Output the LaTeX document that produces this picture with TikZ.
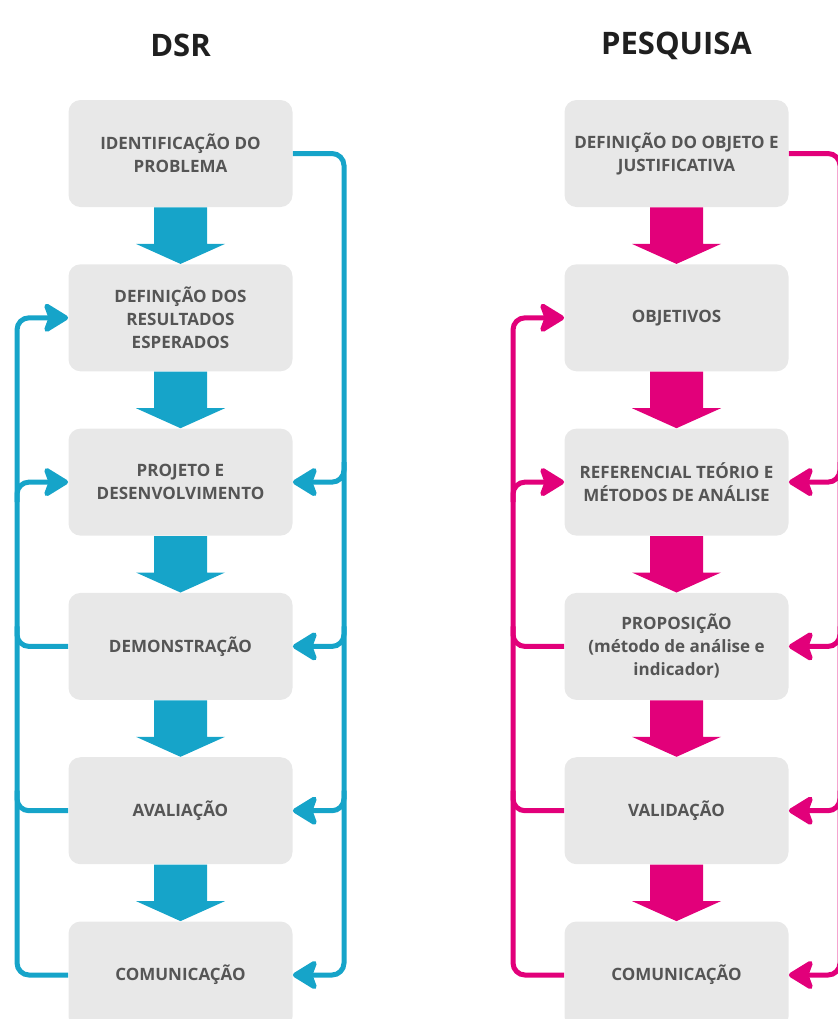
\documentclass[tikz,border=0pt]{standalone}
\usepackage{fontspec}
\setmainfont{Open Sans}
\usetikzlibrary{positioning,arrows.meta,calc}
\definecolor{dsrazul}{RGB}{22,164,201}
\definecolor{pesqrosa}{RGB}{226,0,122}
\definecolor{caixa}{RGB}{232,232,232}
\definecolor{texto}{RGB}{85,85,85}
\tikzset{
  etapa/.style={rounded corners=6pt,fill=caixa,minimum width=112pt,minimum height=53.5pt,
    align=center,inner sep=2pt,text=texto,font=\bfseries\fontsize{8.5}{11.5}\selectfont},
  titulo/.style={text=black!88,font=\bfseries\fontsize{15.5}{18}\selectfont},
  % wide block arrow between two steps
  bloco/.style={to path={($(\tikztostart)+(-26.5,0)$) -- ($(\tikztotarget)+(-26.5,-20)$)
    -- ($(\tikztotarget)+(-44.5,-20)$) -- (\tikztotarget) -- ($(\tikztotarget)+(44.5,-20)$)
    -- ($(\tikztotarget)+(26.5,-20)$) -- ($(\tikztostart)+(26.5,0)$) -- cycle}},
  laco/.style={draw=#1,line width=2.5pt,rounded corners=6pt},
  ponta/.style={-{Stealth[length=14pt,width=17pt,inset=3pt,round]}},
}
\begin{document}
\begin{tikzpicture}[x=0.5pt,y=-0.5pt,node distance=28.25pt]
  \clip (0,0) rectangle (838,1019);
  % ---- DSR ----
  \node[titulo] (tdsr) at (180.5,45.5) {DSR};
  \node[etapa] (d1) at (180.5,153.5) {IDENTIFICAÇÃO DO\\PROBLEMA};
  \node[etapa,below=of d1] (d2) {DEFINIÇÃO DOS\\RESULTADOS\\ESPERADOS};
  \node[etapa,below=of d2] (d3) {PROJETO E\\DESENVOLVIMENTO};
  \node[etapa,below=of d3] (d4) {DEMONSTRAÇÃO};
  \node[etapa,below=of d4] (d5) {AVALIAÇÃO};
  \node[etapa,below=of d5] (d6) {COMUNICAÇÃO};
  \foreach \a/\b in {d1/d2,d2/d3,d3/d4,d4/d5,d5/d6}
    \fill[dsrazul] (\a.south) to[bloco] (\b.north);
  \coordinate (dL) at (17,0);
  \coordinate (dR) at (344,0);
  % right loop
  \draw[laco=dsrazul,ponta] (d1.east) -- (d1.east -| dR) -- (d6.east -| dR) -- (d6.east);
  \foreach \n in {d3,d4,d5}
    \draw[laco=dsrazul,ponta] ($(\n.east -| dR)+(0,-20)$) -- (\n.east -| dR) -- (\n.east);
  % left loop
  \draw[laco=dsrazul,ponta] (d6.west) -- (d6.west -| dL) -- (d2.west -| dL) -- (d2.west);
  \draw[laco=dsrazul,ponta] ($(d3.west -| dL)+(0,20)$) -- (d3.west -| dL) -- (d3.west);
  \foreach \n in {d4,d5}
    \draw[laco=dsrazul] (\n.west) -- (\n.west -| dL) -- ($(\n.west -| dL)+(0,-20)$);

  % ---- PESQUISA ----
  \node[titulo] (tpesq) at (676.5,45.5) {PESQUISA};
  \node[etapa] (p1) at (676.5,153.5) {DEFINIÇÃO DO OBJETO E\\JUSTIFICATIVA};
  \node[etapa,below=of p1] (p2) {OBJETIVOS};
  \node[etapa,below=of p2] (p3) {REFERENCIAL TEÓRIO E\\MÉTODOS DE ANÁLISE};
  \node[etapa,below=of p3] (p4) {PROPOSIÇÃO\\(método de análise e\\indicador)};
  \node[etapa,below=of p4] (p5) {VALIDAÇÃO};
  \node[etapa,below=of p5] (p6) {COMUNICAÇÃO};
  \foreach \a/\b in {p1/p2,p2/p3,p3/p4,p4/p5,p5/p6}
    \fill[pesqrosa] (\a.south) to[bloco] (\b.north);
  \coordinate (pL) at (513,0);
  \coordinate (pR) at (840,0);
  % right loop
  \draw[laco=pesqrosa,ponta] (p1.east) -- (p1.east -| pR) -- (p6.east -| pR) -- (p6.east);
  \foreach \n in {p3,p4,p5}
    \draw[laco=pesqrosa,ponta] ($(\n.east -| pR)+(0,-20)$) -- (\n.east -| pR) -- (\n.east);
  % left loop
  \draw[laco=pesqrosa,ponta] (p6.west) -- (p6.west -| pL) -- (p2.west -| pL) -- (p2.west);
  \draw[laco=pesqrosa,ponta] ($(p3.west -| pL)+(0,20)$) -- (p3.west -| pL) -- (p3.west);
  \foreach \n in {p4,p5}
    \draw[laco=pesqrosa] (\n.west) -- (\n.west -| pL) -- ($(\n.west -| pL)+(0,-20)$);
\end{tikzpicture}
\end{document}
